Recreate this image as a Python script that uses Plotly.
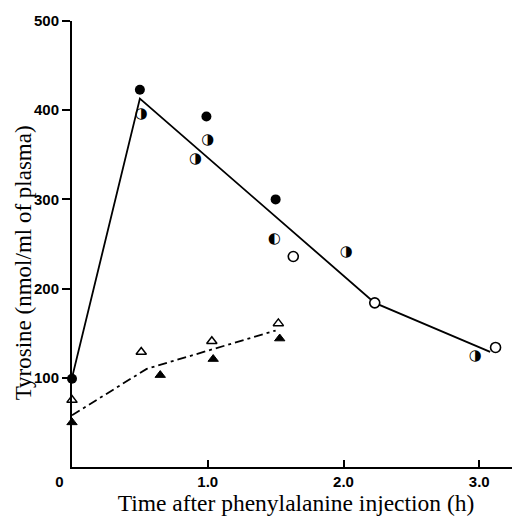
import plotly.graph_objects as go

# Fitted lines
solid_x = [0, 0.5, 2.23, 3.08]
solid_y = [100, 413, 184, 129]
dashdot_x = [0, 0.55, 1.5]
dashdot_y = [58, 110, 153]

# Points
filled_circ_x = [0, 0.5, 0.99, 1.5]
filled_circ_y = [99, 423, 393, 300]
half_circ_x = [0.51, 0.91, 1.0, 1.49, 2.02, 2.97]
half_circ_y = [395, 345, 366, 255, 241, 124]
half_circ_glyph = ["◑", "◑", "◑", "◐", "◑", "◑"]
open_circ_x = [1.63, 2.23, 3.12]
open_circ_y = [236, 184, 134]
open_tri_x = [0, 0.51, 1.03, 1.52]
open_tri_y = [75, 129, 141, 161]
filled_tri_x = [0, 0.65, 1.04, 1.53]
filled_tri_y = [50, 103, 121, 144]

x_ticks = [0, 1, 2, 3]
x_ticktext = ["0\u00a0\u00a0\u00a0\u00a0\u00a0\u00a0", "1.0", "2.0", "3.0"]
y_ticks = [100, 200, 300, 400, 500]

fig = go.Figure()
fig.add_trace(go.Scatter(x=solid_x, y=solid_y, mode="lines",
                         line=dict(color="black", width=1.8), cliponaxis=False))
fig.add_trace(go.Scatter(x=dashdot_x, y=dashdot_y, mode="lines",
                         line=dict(color="black", width=1.8, dash="9px,4px,3px,4px"),
                         cliponaxis=False))
fig.add_trace(go.Scatter(x=filled_circ_x, y=filled_circ_y, mode="markers",
                         marker=dict(symbol="circle", size=10, color="black"),
                         cliponaxis=False))
fig.add_trace(go.Scatter(x=open_circ_x, y=open_circ_y, mode="markers",
                         marker=dict(symbol="circle", size=10, color="white",
                                     line=dict(color="black", width=1.6)),
                         cliponaxis=False))
fig.add_trace(go.Scatter(x=half_circ_x, y=half_circ_y, mode="text",
                         text=half_circ_glyph, textposition="middle center",
                         textfont=dict(family="DejaVu Sans", size=15, color="black"),
                         cliponaxis=False))
fig.add_trace(go.Scatter(x=open_tri_x, y=open_tri_y, mode="markers",
                         marker=dict(symbol="triangle-up", size=9, color="white",
                                     line=dict(color="black", width=1.5)),
                         cliponaxis=False))
fig.add_trace(go.Scatter(x=filled_tri_x, y=filled_tri_y, mode="markers",
                         marker=dict(symbol="triangle-up", size=9, color="black",
                                     line=dict(color="black", width=1)),
                         cliponaxis=False))

fig.update_layout(
    width=520, height=517,
    margin=dict(l=64, r=8, t=13, b=58),
    paper_bgcolor="white", plot_bgcolor="white",
    showlegend=False,
    font=dict(family="Liberation Sans", color="black"),
    annotations=[dict(
        text="Tyrosine (nmol/ml of plasma)", textangle=-90,
        xref="paper", yref="paper", x=-0.109, y=0.457,
        xanchor="center", yanchor="middle", showarrow=False,
        font=dict(family="Liberation Serif", size=23, color="black"),
    )],
)
fig.update_xaxes(
    range=[0, 3.3], showgrid=False, zeroline=False, automargin=False,
    showline=True, linecolor="black", linewidth=2,
    tickmode="array", tickvals=x_ticks, ticktext=x_ticktext,
    ticks="inside", ticklen=7, tickwidth=1.5, tickcolor="black",
    tickfont=dict(family="Liberation Sans", size=15, weight="bold", color="black"),
    title=dict(text="Time after phenylalanine injection (h)",
               font=dict(family="Liberation Serif", size=23.5, color="black"),
               standoff=4),
)
fig.update_yaxes(
    range=[0, 500], showgrid=False, zeroline=False, automargin=False,
    showline=True, linecolor="black", linewidth=2,
    tickmode="array", tickvals=y_ticks,
    ticks="outside", ticklen=8, tickwidth=1.5, tickcolor="black",
    tickfont=dict(family="Liberation Sans", size=15, weight="bold", color="black"),
)

fig.write_html("out.html")
